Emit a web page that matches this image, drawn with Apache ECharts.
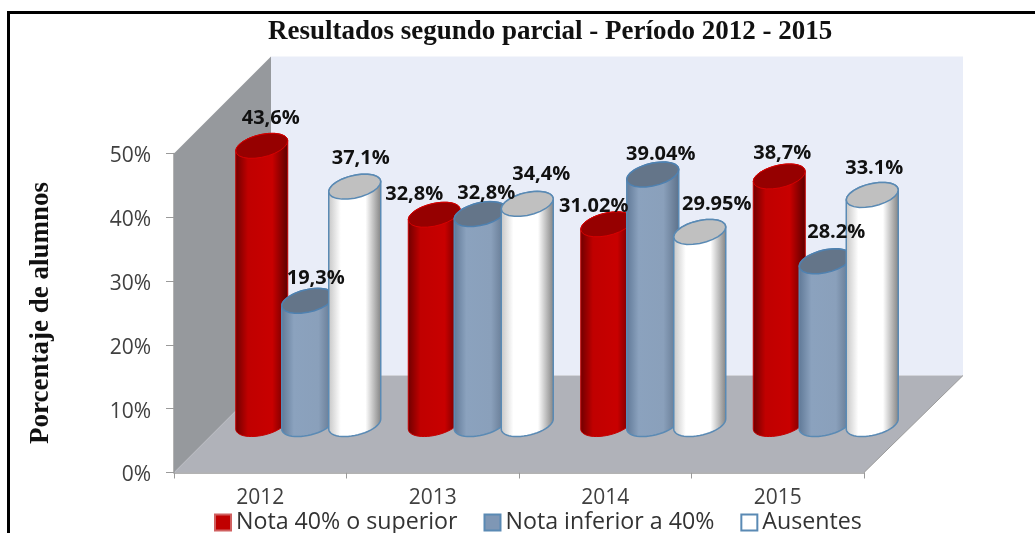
<!DOCTYPE html>
<html><head><meta charset="utf-8">
<style>html,body{margin:0;padding:0;background:#fff}#c{width:1035px;height:533px}</style>
<script src="https://cdn.jsdelivr.net/npm/echarts@6/dist/echarts.min.js"></script>
</head><body><div id="c"></div>
<script>
const years = ['2012', '2013', '2014', '2015'];
const seriesNames = ['Nota 40% o superior', 'Nota inferior a 40%', 'Ausentes'];
const notaAlta = [43.6, 32.8, 31.3, 38.8];
const notaBaja = [19.3, 32.9, 39.1, 25.5];
const ausentes = [37.2, 34.5, 30.1, 35.9];
const notaAltaLabels = ['43,6%', '32,8%', '31.02%', '38,7%'];
const notaBajaLabels = ['19,3%', '32,8%', '39.04%', '28.2%'];
const ausentesLabels = ['37,1%', '34,4%', '29.95%', '33.1%'];
const yTicks = {min: 0, max: 50, interval: 10};

// styling / 3D projection constants (pixels)
const DEPTH = 97, HALF = 26, TILT = 5, MINOR = 11.5, WALL_EXTRA = 2;
const labelNudge = [
  [[9, -28], [-20, -20], [-13, -18], [3, -23]],
  [[8, -23], [6, -21], [8, -20], [11, -29]],
  [[6, -28], [14, -30], [17, -28], [2, -27]]
];
const styles = [
  {edge: ['#6e0000', '#c00000', '#c80000', '#5a0000'], top: '#960000', line: '#c40000', topLine: '#d80000', w: 1},
  {edge: ['#5f7896', '#8ba2be', '#8aa0bb', '#5c7089'], top: '#647589', line: '#5a8ab4', topLine: '#4f81b0', w: 1.5},
  {edge: ['#c4c4c4', '#ffffff', '#ffffff', '#808080'], top: '#c0c0c0', line: '#5a8ab4', topLine: '#5a8ab4', w: 1.5}
];
const slotShift = [-46.5, -0.5, 46.5];

function ellipsePts(cx, cy, from, to) {
  const pts = [];
  for (let i = 0; i <= 24; i++) {
    const t = from + (to - from) * i / 24;
    pts.push([cx + HALF * Math.cos(t), cy - TILT * Math.cos(t) + MINOR * Math.sin(t)]);
  }
  return pts;
}

function cylinder(idx, labels) {
  return function (params, api) {
    const s = styles[idx];
    const top = api.coord([api.value(0), api.value(1)]);
    const base = api.coord([api.value(0), 0]);
    const cx = top[0] + DEPTH / 2 - 0.5 + slotShift[idx];
    const ty = top[1] - DEPTH / 2, by = base[1] - DEPTH / 2;
    const body = ellipsePts(cx, ty, Math.PI, 2 * Math.PI).concat(ellipsePts(cx, by, 0, Math.PI));
    const nudge = labelNudge[idx][params.dataIndex];
    return {
      type: 'group',
      children: [
        {type: 'polygon', shape: {points: body}, style: {
          fill: new echarts.graphic.LinearGradient(0, 0, 1, 0, [
            {offset: 0, color: s.edge[0]}, {offset: 0.24, color: s.edge[1]},
            {offset: 0.7, color: s.edge[2]}, {offset: 1, color: s.edge[3]}]),
          stroke: s.line, lineWidth: s.w}},
        {type: 'polygon', shape: {points: ellipsePts(cx, ty, 0, 2 * Math.PI)},
          style: {fill: s.top, stroke: s.topLine, lineWidth: s.w}},
        {type: 'text', z2: 100, x: cx + nudge[0], y: ty + nudge[1], style: {
          text: labels[params.dataIndex], align: 'center', verticalAlign: 'middle',
          font: 'bold 20px "Open Sans"', fill: '#111'}}
      ]
    };
  };
}

function walls(params, api) {
  const g = params.coordSys;
  const x0 = g.x, x1 = g.x + g.width, y0 = g.y, y1 = g.y + g.height;
  const xr = x1 + DEPTH + WALL_EXTRA;
  return {type: 'group', silent: true, children: [
    {type: 'polygon', shape: {points: [[x0 + DEPTH, y0 - DEPTH], [xr, y0 - DEPTH], [xr, y1 - DEPTH], [x0 + DEPTH, y1 - DEPTH]]},
      style: {fill: '#e9edf8'}},
    {type: 'polygon', shape: {points: [[x0, y0], [x0 + DEPTH, y0 - DEPTH], [x0 + DEPTH, y1 - DEPTH], [x0, y1]]},
      style: {fill: '#96999d'}},
    {type: 'polygon', shape: {points: [[x0, y1], [x0 + DEPTH, y1 - DEPTH], [xr, y1 - DEPTH], [x1, y1]]},
      style: {fill: '#b0b2b9'}},
    {type: 'line', shape: {x1: x1, y1: y1, x2: xr, y2: y1 - DEPTH}, style: {stroke: '#9a9a9a', lineWidth: 1}}
  ]};
}

const chart = echarts.init(document.getElementById('c'), null, {renderer: 'canvas'});
const mk = (name, vals, idx, labels) => ({
  name, type: 'custom', coordinateSystem: 'cartesian2d', animation: false,
  itemStyle: {color: idx === 0 ? '#c00000' : idx === 1 ? '#7f97b5' : '#ffffff', borderColor: idx === 0 ? '#d06060' : '#5a8ab4', borderWidth: 1.5},
  renderItem: cylinder(idx, labels),
  encode: {x: 0, y: 1},
  data: vals.map((v, i) => [i, v])
});
chart.setOption({
  animation: false,
  backgroundColor: '#fff',
  title: {text: 'Resultados segundo parcial - Período 2012 - 2015', left: 268, top: 19, padding: 0,
    textStyle: {fontFamily: '"Liberation Serif"', fontWeight: 'bold', fontSize: 27, color: '#111'}},
  legend: {data: seriesNames, left: 214, top: 511, padding: 0, itemWidth: 16, itemHeight: 16, itemGap: 26,
    icon: 'rect', textStyle: {fontFamily: '"Open Sans"', fontSize: 23.2, color: '#333'}},
  grid: {left: 174, top: 153.5, width: 690, height: 319, containLabel: false},
  xAxis: {type: 'category', data: years, boundaryGap: true,
    axisLine: {lineStyle: {color: '#9a9a9a', width: 1.5}},
    axisTick: {show: true, length: 6, lineStyle: {color: '#9a9a9a'}},
    axisLabel: {margin: 15, fontFamily: '"Open Sans"', fontSize: 21, color: '#404040'}},
  yAxis: {type: 'value', min: yTicks.min, max: yTicks.max, interval: yTicks.interval,
    name: 'Porcentaje de alumnos', nameLocation: 'middle', nameGap: 119, nameRotate: 90,
    nameTextStyle: {fontFamily: '"Liberation Serif"', fontWeight: 'bold', fontSize: 27, color: '#111'},
    splitLine: {show: false},
    axisLine: {show: true, lineStyle: {color: '#9a9a9a', width: 1.5}},
    axisTick: {show: true, length: 8, lineStyle: {color: '#9a9a9a'}},
    axisLabel: {margin: 23, formatter: '{v|{value}%}',
      rich: {v: {padding: [6, 0, 0, 0], fontFamily: '"Open Sans"', fontSize: 21, color: '#404040'}}}},
  graphic: [
    {type: 'rect', z: -1, silent: true, shape: {x: 8.5, y: 12.5, width: 1100, height: 600},
      style: {fill: 'transparent', stroke: '#000', lineWidth: 3}}
  ],
  series: [
    {type: 'custom', name: 'fondo', coordinateSystem: 'cartesian2d', silent: true, z: 1, renderItem: walls, data: [[0, 0]], encode: {x: 0, y: 1}},
    mk(seriesNames[0], notaAlta, 0, notaAltaLabels),
    mk(seriesNames[1], notaBaja, 1, notaBajaLabels),
    mk(seriesNames[2], ausentes, 2, ausentesLabels)
  ]
});
</script></body></html>
